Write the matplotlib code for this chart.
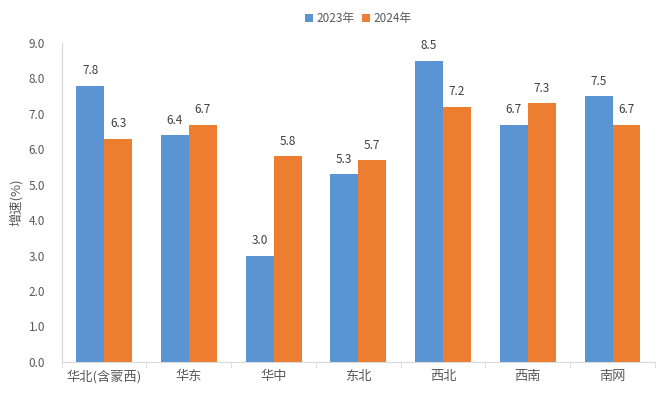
import matplotlib
matplotlib.use('Agg')
import matplotlib.pyplot as plt
import numpy as np

plt.rcParams['font.family'] = ['Noto Sans CJK SC', 'DejaVu Sans']

regions = ['华北(含蒙西)', '华东', '华中', '东北', '西北', '西南', '南网']
v2023 = [7.8, 6.4, 3.0, 5.3, 8.5, 6.7, 7.5]
v2024 = [6.3, 6.7, 5.8, 5.7, 7.2, 7.3, 6.7]
yticks = [0, 1, 2, 3, 4, 5, 6, 7, 8, 9]

c23 = '#5B94D3'
c24 = '#ED7D31'
txt = '#595959'

fig = plt.figure(figsize=(6.71, 3.95), dpi=100)
ax = fig.add_axes([0.092, 0.084, 0.884, 0.807])

x = np.arange(len(regions))
w = 0.33
b1 = ax.bar(x - w / 2, v2023, w, color=c23, label='2023年')
b2 = ax.bar(x + w / 2, v2024, w, color=c24, label='2024年')

for bars, vals in ((b1, v2023), (b2, v2024)):
    for r, v in zip(bars, vals):
        ax.annotate(f'{v:.1f}', (r.get_x() + r.get_width() / 2, v),
                    xytext=(0, 6), textcoords='offset points',
                    ha='center', va='bottom', fontsize=8.5, color='#404040')

ax.set_xlim(-0.5, len(regions) - 0.5)
ax.set_ylim(0, 9)
ax.set_yticks(yticks)
ax.set_yticklabels([f'{t:.1f}' for t in yticks], fontsize=8.5, color=txt)
ax.set_xticks(x)
ax.set_xticklabels(regions, fontsize=9.5, color=txt)
ax.set_xticks(np.arange(len(regions) + 1) - 0.5, minor=True)
ax.tick_params(axis='x', which='major', length=0, pad=6)
ax.tick_params(axis='x', which='minor', length=4, color='#d9d9d9')
ax.tick_params(axis='y', length=0, pad=12)

for s in ('top', 'right'):
    ax.spines[s].set_visible(False)
ax.spines['left'].set_color('#d9d9d9')
ax.spines['bottom'].set_color('#d9d9d9')

ax.set_ylabel('增速(%)', fontsize=9.5, color=txt, labelpad=4)

ax.legend(loc='upper center', bbox_to_anchor=(0.5, 1.13), ncol=2, frameon=False,
          fontsize=8.5, handlelength=0.7, handleheight=0.7, handletextpad=0.3,
          columnspacing=0.6, labelcolor=txt)

fig.savefig('out.png', dpi=100)
